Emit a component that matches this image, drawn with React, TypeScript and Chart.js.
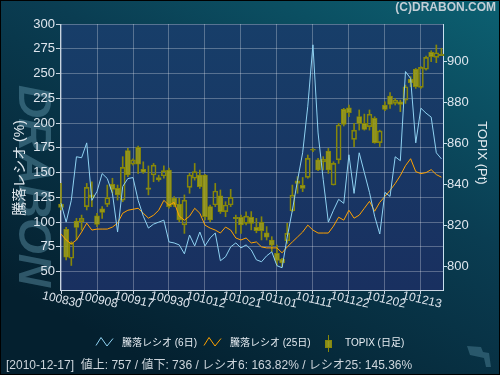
import { useEffect, useRef } from 'react';
import { Chart, registerables } from 'chart.js';
Chart.register(...registerables);

// ---- data ----
const tickLabels = ['100830', '100908', '100917', '100930', '101012', '101021', '101101', '101111', '101122', '101202', '101213'];
const tickIndex = [0, 7, 14, 21, 28, 35, 42, 49, 56, 63, 70];

const ratio6 = [
  119, 100, 122, 166, 165, 180, 122, 131, 149, 144,
  129, 90, 136, 144, 145, 122, 106, 94, 98, 100,
  102, 80, 79, 77, 68, 87, 76, 90, 76, 84,
  89, 61, 65, 75, 79, 74, 77, 72, 62, 60,
  66, 70, 56, 54, 85, 112, 142, 170, 217, 279,
  190, 143, 100, 112, 123, 119, 168, 129, 170, 150,
  130, 106, 88, 130, 126, 166, 162, 252, 245, 180,
  215, 210, 206, 170, 163.82,
];

const ratio25 = [
  88, 82, 78, 82, 90, 99, 92, 93, 93, 93,
  95, 99, 109, 112, 113, 114, 109, 104, 107, 112,
  122, 117, 120, 106, 102, 106, 114, 109, 97, 94,
  92, 89, 95, 92, 84, 82, 84, 79, 80, 75,
  74, 74, 74, 69, 75, 80, 85, 90, 97, 92,
  89, 89, 89, 96, 105, 102, 112, 104, 107, 114,
  121, 111, 120, 126, 132, 139, 147, 157, 164, 151,
  149, 150, 153, 148, 145.36,
];

const topixOpen = [
  830.5, 818.2, 804.1, 822.2, 821.9, 829.2, 833.6, 824.7, 828.1, 830.3,
  840.0, 838.1, 832.4, 856.4, 849.9, 858.0, 847.3, 838.3, 844.6, 843.3,
  844.1, 847.0, 833.4, 830.5, 820.3, 838.6, 843.0, 844.6, 844.6, 829.2,
  830.0, 834.4, 826.8, 830.0, 824.0, 824.0, 821.1, 824.0, 819.1, 821.7,
  816.5, 813.0, 806.5, 803.6, 812.6, 827.2, 840.5, 839.6, 843.4, 856.6,
  851.9, 851.0, 856.2, 839.7, 851.9, 876.5, 877.3, 861.9, 873.0, 869.7,
  868.1, 872.1, 860.3, 878.6, 883.0, 879.4, 880.2, 881.0, 891.1, 896.0,
  887.2, 896.0, 904.2, 901.8, 903.4,
];
const topixHigh = [
  840.5, 819.2, 812.2, 823.5, 825.1, 840.5, 841.3, 826.0, 829.2, 839.7,
  843.0, 839.7, 853.5, 857.5, 852.5, 858.7, 851.0, 849.0, 850.2, 844.5,
  849.0, 848.0, 834.1, 833.3, 834.9, 845.4, 850.2, 847.0, 844.9, 830.0,
  840.5, 837.3, 831.6, 837.6, 825.1, 825.1, 826.7, 826.8, 823.5, 824.3,
  819.5, 814.6, 810.5, 804.1, 821.1, 839.7, 843.8, 843.4, 854.3, 857.5,
  852.7, 853.5, 857.5, 851.0, 869.7, 877.0, 878.6, 869.7, 876.2, 874.2,
  876.2, 872.9, 866.4, 880.2, 884.6, 881.8, 881.0, 888.3, 892.4, 896.4,
  897.3, 902.4, 905.0, 907.8, 906.2,
];
const topixLow = [
  827.6, 803.3, 800.6, 813.0, 817.8, 827.6, 829.2, 819.5, 823.5, 829.2,
  835.7, 832.4, 831.6, 843.8, 849.4, 845.4, 845.4, 834.9, 841.3, 841.5,
  843.0, 828.4, 829.2, 821.9, 816.2, 835.7, 842.1, 838.1, 822.7, 821.9,
  829.2, 825.9, 824.3, 829.2, 816.2, 816.2, 820.3, 817.9, 816.5, 813.0,
  813.0, 807.3, 800.8, 800.0, 811.3, 826.8, 835.7, 836.5, 843.0, 855.9,
  846.7, 847.0, 845.4, 839.7, 850.2, 868.4, 872.9, 858.3, 866.4, 866.4,
  866.4, 860.0, 858.4, 875.9, 877.0, 878.6, 875.4, 879.4, 887.5, 886.7,
  886.7, 895.6, 899.7, 899.2, 902.6,
];
const topixClose = [
  828.8, 804.6, 811.4, 819.1, 823.5, 838.6, 834.9, 820.6, 826.4, 833.6,
  837.6, 834.9, 848.3, 844.6, 851.9, 849.9, 846.0, 837.6, 849.4, 842.2,
  846.7, 829.2, 830.0, 822.7, 832.4, 844.6, 846.2, 838.9, 824.3, 822.7,
  836.8, 826.8, 830.0, 833.7, 823.3, 820.3, 824.6, 821.1, 817.5, 817.5,
  814.3, 810.5, 803.0, 802.0, 816.2, 834.8, 841.8, 838.0, 852.7, 857.1,
  847.0, 852.2, 847.0, 850.2, 868.9, 869.2, 874.9, 866.4, 869.7, 866.8,
  874.1, 860.3, 866.0, 876.5, 878.9, 881.0, 878.9, 887.5, 889.5, 887.5,
  896.9, 901.8, 902.1, 904.0, 902.6,
];

const leftTicks = [50, 75, 100, 125, 150, 175, 200, 225, 250, 275, 300];
const rightTicks = [800, 820, 840, 860, 880, 900];

const statusDate = '2010-12-17';
const advances = 757;
const declines = 736;

const FONT = "'Liberation Sans', Arial, 'Noto Sans CJK JP', sans-serif";
const BLUE = '#8fd2f2';
const ORANGE = '#ffa200';
const OLIVE_LINE = '#87870a';
const OLIVE_FILL = 'rgba(160,160,25,0.85)';

const decorPlugin = {
  id: 'decor',
  beforeDraw(chart: any) {
    const ctx = chart.ctx as CanvasRenderingContext2D;
    const a = chart.chartArea;
    ctx.save();
    const g = ctx.createLinearGradient(430, -40, 200, 390);
    g.addColorStop(0, '#0c6172');
    g.addColorStop(0.45, '#0a3d52');
    g.addColorStop(1, '#04202f');
    ctx.fillStyle = g;
    ctx.fillRect(0, 0, 500, 375);

    // watermark
    ctx.save();
    ctx.translate(32, 186);
    ctx.rotate(Math.PI / 2);
    ctx.font = `italic bold 46px ${FONT}`;
    ctx.fillStyle = 'rgba(105,160,180,0.42)';
    ctx.textAlign = 'center';
    ctx.textBaseline = 'middle';
    ctx.fillText('DRABON', 0, 0);
    ctx.restore();

    const pg = ctx.createLinearGradient(0, a.top, 0, a.bottom);
    pg.addColorStop(0, '#173e69');
    pg.addColorStop(1, '#193060');
    ctx.fillStyle = pg;
    ctx.fillRect(a.left, a.top, a.right - a.left, a.bottom - a.top);
    ctx.restore();
  },
  afterDraw(chart: any) {
    const ctx = chart.ctx as CanvasRenderingContext2D;
    const xs = chart.scales.x;
    ctx.save();

    // x tick labels, rotated clockwise
    ctx.font = `12px ${FONT}`;
    ctx.fillStyle = '#dfe6ee';
    ctx.textAlign = 'center';
    ctx.textBaseline = 'middle';
    tickIndex.forEach((v, k) => {
      const x = xs.getPixelForValue(v) + 1;
      ctx.save();
      ctx.translate(x, 300);
      ctx.rotate((13 * Math.PI) / 180);
      ctx.fillText(tickLabels[k], 0, 0);
      ctx.restore();
    });

    // axis titles
    ctx.fillStyle = '#e2e9ef';
    ctx.save();
    ctx.translate(20, 168);
    ctx.rotate(-Math.PI / 2);
    ctx.font = `14px ${FONT}`;
    ctx.fillText('騰落レシオ (%)', 0, 0);
    ctx.restore();
    ctx.save();
    ctx.translate(482, 153);
    ctx.rotate(Math.PI / 2);
    ctx.font = `13px ${FONT}`;
    ctx.fillText('TOPIX (Pt)', 0, 0);
    ctx.restore();

    // copyright
    ctx.font = `bold 12px ${FONT}`;
    ctx.fillStyle = '#c3ced6';
    ctx.textAlign = 'right';
    ctx.fillText('(C)DRABON.COM', 496, 8);

    // legend
    const zig = (x0: number, color: string) => {
      ctx.beginPath();
      ctx.strokeStyle = color;
      ctx.lineWidth = 1;
      ctx.moveTo(x0, 345.5);
      ctx.lineTo(x0 + 5, 337.5);
      ctx.lineTo(x0 + 11, 346);
      ctx.lineTo(x0 + 17, 338.5);
      ctx.stroke();
    };
    ctx.font = `10px ${FONT}`;
    ctx.fillStyle = '#e6ecf2';
    ctx.textAlign = 'left';
    zig(96, BLUE);
    ctx.fillText('騰落レシオ (6日)', 122, 343);
    zig(204, ORANGE);
    ctx.fillText('騰落レシオ (25日)', 230, 343);
    ctx.beginPath();
    ctx.strokeStyle = OLIVE_LINE;
    ctx.moveTo(328.5, 335);
    ctx.lineTo(328.5, 352);
    ctx.stroke();
    ctx.fillStyle = OLIVE_FILL;
    ctx.fillRect(325, 340, 7, 8);
    ctx.strokeRect(325.5, 340.5, 6, 7);
    ctx.fillStyle = '#e6ecf2';
    ctx.fillText('TOPIX (日足)', 345, 343);

    // status line
    const n = ratio6.length - 1;
    ctx.font = `12px ${FONT}`;
    ctx.fillStyle = '#cdd5dc';
    ctx.fillText(
      `[${statusDate}]  値上: ${advances} / 値下: ${declines} / レシオ6: ${ratio6[n].toFixed(2)}% / レシオ25: ${ratio25[n].toFixed(2)}%`,
      6,
      366
    );

    // corner icon
    ctx.fillStyle = 'rgba(70,120,140,0.55)';
    ctx.beginPath();
    ctx.moveTo(467, 346);
    ctx.lineTo(481, 347);
    ctx.lineTo(483, 352);
    ctx.lineTo(489, 353);
    ctx.lineTo(491, 367);
    ctx.lineTo(486, 367);
    ctx.lineTo(484, 358);
    ctx.lineTo(470, 355);
    ctx.closePath();
    ctx.fill();

    // border
    ctx.strokeStyle = '#000';
    ctx.lineWidth = 1;
    ctx.strokeRect(0.5, 0.5, 499, 374);
    ctx.restore();
  },
};

export default function App() {
  const ref = useRef<HTMLCanvasElement | null>(null);
  useEffect(() => {
    document.body.style.margin = '0';
    if (!ref.current) return;
    Chart.defaults.font.family = FONT;
    const idx = ratio6.map((_, i) => i);
    const bodyColors = idx.map((i) => (topixOpen[i] > topixClose[i] ? OLIVE_FILL : 'rgba(0,0,0,0)'));
    const chart = new Chart(ref.current, {
      type: 'bar',
      data: {
        datasets: [
          {
            type: 'line',
            label: '騰落レシオ (6日)',
            data: idx.map((i) => ({ x: i, y: ratio6[i] })),
            borderColor: BLUE,
            borderWidth: 1,
            pointRadius: 0,
            tension: 0,
            yAxisID: 'y',
            order: 0,
          } as any,
          {
            type: 'line',
            label: '騰落レシオ (25日)',
            data: idx.map((i) => ({ x: i, y: ratio25[i] })),
            borderColor: ORANGE,
            borderWidth: 1,
            pointRadius: 0,
            tension: 0,
            yAxisID: 'y',
            order: 1,
          } as any,
          {
            type: 'bar',
            label: 'body',
            data: idx.map((i) => ({ x: i, y: [topixOpen[i], topixClose[i]] })),
            backgroundColor: bodyColors,
            borderColor: OLIVE_LINE,
            borderWidth: 1,
            borderSkipped: false,
            barThickness: 5,
            grouped: false,
            clip: false,
            yAxisID: 'y2',
            order: 2,
          } as any,
          {
            type: 'bar',
            label: 'upper',
            data: idx.map((i) => ({ x: i, y: [Math.max(topixOpen[i], topixClose[i]), topixHigh[i]] })),
            backgroundColor: OLIVE_LINE,
            borderWidth: 0,
            barThickness: 1,
            grouped: false,
            clip: false,
            yAxisID: 'y2',
            order: 3,
          } as any,
          {
            type: 'bar',
            label: 'lower',
            data: idx.map((i) => ({ x: i, y: [topixLow[i], Math.min(topixOpen[i], topixClose[i])] })),
            backgroundColor: OLIVE_LINE,
            borderWidth: 0,
            barThickness: 1,
            grouped: false,
            clip: false,
            yAxisID: 'y2',
            order: 4,
          } as any,
        ],
      },
      options: {
        animation: false,
        responsive: false,
        devicePixelRatio: 1,
        events: [],
        layout: { padding: { top: 24, left: 0, right: 0, bottom: 0 } },
        plugins: { legend: { display: false }, tooltip: { enabled: false } },
        scales: {
          x: {
            type: 'linear',
            min: -0.2,
            max: 74.3,
            offset: false,
            afterBuildTicks: (s: any) => {
              s.ticks = tickIndex.map((v) => ({ value: v }));
            },
            afterFit: (s: any) => {
              s.height = 85;
            },
            ticks: { display: true, callback: () => '', maxRotation: 0, minRotation: 0 },
            grid: { color: 'rgba(255,255,255,0.28)', tickColor: '#c8d4e0', tickLength: 4, offset: false },
            border: { color: '#c8d4e0', width: 1 },
          },
          y: {
            type: 'linear',
            position: 'left',
            min: 31.5,
            max: 300,
            afterBuildTicks: (s: any) => {
              s.ticks = leftTicks.map((v) => ({ value: v }));
            },
            afterFit: (s: any) => {
              s.width = 60;
            },
            ticks: { color: '#dfe6ee', font: { size: 13 }, padding: 1 },
            grid: { color: 'rgba(255,255,255,0.28)', tickColor: '#c8d4e0', tickLength: 4 },
            border: { color: '#c8d4e0', width: 1 },
          },
          y2: {
            type: 'linear',
            position: 'right',
            min: 788.67,
            max: 918,
            afterBuildTicks: (s: any) => {
              s.ticks = rightTicks.map((v) => ({ value: v }));
            },
            afterFit: (s: any) => {
              s.width = 57;
            },
            ticks: { color: '#dfe6ee', font: { size: 13 }, padding: 0 },
            grid: { drawOnChartArea: false, tickColor: '#c8e0ee', tickLength: 4 },
            border: { color: '#c8e0ee', width: 1 },
          },
        },
      } as any,
      plugins: [decorPlugin],
    });
    return () => chart.destroy();
  }, []);
  return <canvas ref={ref} width={500} height={375} style={{ display: 'block', width: 500, height: 375 }} />;
}
